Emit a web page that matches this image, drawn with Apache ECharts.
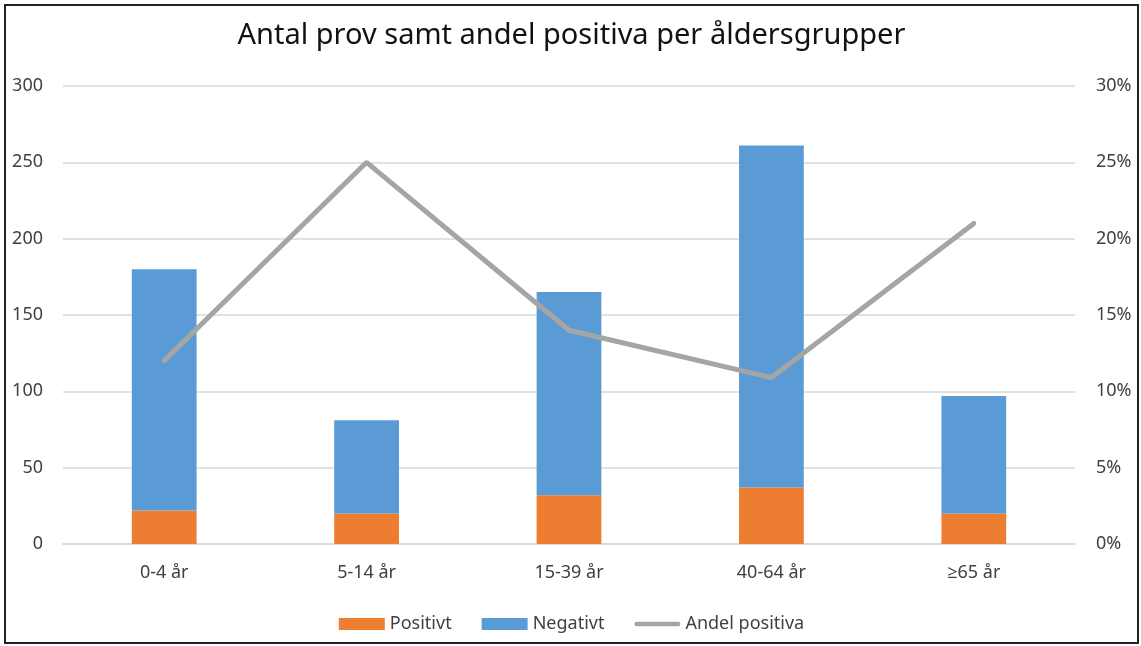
<!DOCTYPE html>
<html lang="sv">
  <head>
    <meta charset="utf-8" />
    <title>Antal prov samt andel positiva per åldersgrupper</title>
    <script src="https://cdn.jsdelivr.net/npm/echarts@6/dist/echarts.min.js"></script>
    <style>
      html,
      body {
        margin: 0;
        padding: 0;
        background: #fff;
      }
      #chart {
        position: absolute;
        left: 4px;
        top: 4px;
        width: 1131px;
        height: 636px;
        border: 2px solid #222;
      }
    </style>
  </head>
  <body>
    <div id="chart"></div>
    <script>
      var categories = ["0-4 år", "5-14 år", "15-39 år", "40-64 år", "≥65 år"];
      var positive = [22, 20, 32, 37, 20];
      var negative = [158, 61, 133, 224, 77];
      // andel positiva, procent
      var share = [12.0, 25.0, 14.0, 10.9, 21.0];

      var font = "'Noto Sans', 'Open Sans', sans-serif";
      var chart = echarts.init(document.getElementById("chart"));
      chart.setOption({
        animation: false,
        textStyle: { fontFamily: font },
        title: {
          text: "Antal prov samt andel positiva per åldersgrupper",
          left: "center",
          top: 10,
          textStyle: { fontSize: 29, fontWeight: "normal", color: "#111", fontFamily: font },
        },
        grid: { left: 57, right: 62, top: 80, bottom: 98 },
        legend: {
          bottom: 4,
          left: "center",
          itemWidth: 46,
          itemHeight: 12,
          itemGap: 30,
          textStyle: { fontSize: 18, color: "#404040" },
          data: [
            { name: "Positivt", icon: "rect" },
            { name: "Negativt", icon: "rect" },
            {
              name: "Andel positiva",
              icon: "path://M2.5,0 L49.5,0 A2.5,2.5 0 0 1 49.5,5 L2.5,5 A2.5,2.5 0 0 1 2.5,0 Z",
            },
          ],
        },
        xAxis: {
          type: "category",
          data: categories,
          axisLine: { lineStyle: { color: "#d9d9d9", width: 1.5 } },
          axisTick: { show: false },
          axisLabel: { fontSize: 18, color: "#404040", margin: 20 },
        },
        yAxis: [
          {
            type: "value",
            min: 0,
            max: 300,
            interval: 50,
            axisLine: { show: false },
            axisTick: { show: false },
            splitLine: { lineStyle: { color: "#d9d9d9", width: 1.5 } },
            axisLabel: { fontSize: 18, color: "#404040", margin: 20 },
          },
          {
            type: "value",
            min: 0,
            max: 30,
            interval: 5,
            axisLine: { show: false },
            axisTick: { show: false },
            splitLine: { show: false },
            axisLabel: { fontSize: 18, color: "#404040", formatter: "{value}%", margin: 21 },
          },
        ],
        series: [
          {
            name: "Positivt",
            type: "bar",
            stack: "prov",
            data: positive,
            barWidth: "32%",
            itemStyle: { color: "#ED7D31" },
          },
          {
            name: "Negativt",
            type: "bar",
            stack: "prov",
            data: negative,
            barWidth: "32%",
            itemStyle: { color: "#5B9BD5" },
          },
          {
            name: "Andel positiva",
            type: "line",
            yAxisIndex: 1,
            data: share,
            symbol: "none",
            lineStyle: { color: "#A5A5A5", width: 5, cap: "round" },
            itemStyle: { color: "#A5A5A5" },
          },
        ],
      });
    </script>
  </body>
</html>
